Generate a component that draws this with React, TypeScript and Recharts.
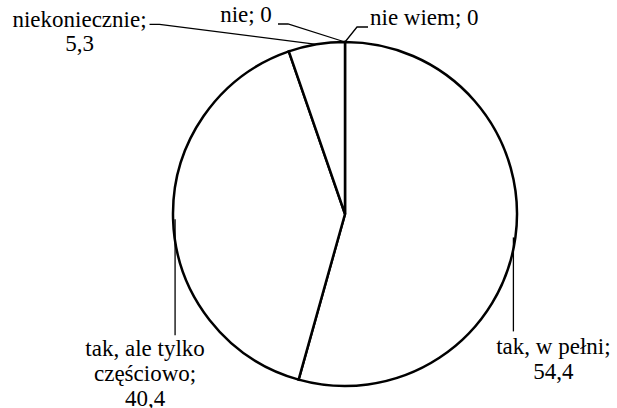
import React from 'react';
import { PieChart, Pie, Cell } from 'recharts';

const categories = ['tak, w pełni', 'tak, ale tylko częściowo', 'niekoniecznie', 'nie', 'nie wiem'];
const values = [54.4, 40.4, 5.3, 0, 0];
const labelTexts = [
  ['tak, w pełni;', '54,4'],
  ['tak, ale tylko', 'częściowo;', '40,4'],
  ['niekoniecznie;', '5,3'],
  ['nie; 0'],
  ['nie wiem; 0'],
];

const data = categories.map((name, i) => ({ name, value: values[i], idx: i }));

const FONT = "'Liberation Serif', 'Times New Roman', serif";
const FS = 23;
const LH = 25;

const RAD = Math.PI / 180;

const renderLabel = (props: any) => {
  const { cx, cy, midAngle, outerRadius, index } = props;
  const ax = cx + outerRadius * Math.cos(-midAngle * RAD);
  const ay = cy + outerRadius * Math.sin(-midAngle * RAD);
  const lines = labelTexts[index];
  let path = '';
  let tx = 0;
  let ty = 0;
  let anchor: 'start' | 'middle' | 'end' = 'middle';
  let lh = LH;
  if (index === 0) {
    path = `M${ax - 2},${ay} L${ax - 2},${ay + 94}`;
    tx = ax + 38;
    ty = ay + 117;
  } else if (index === 1) {
    path = `M${ax + 2},${ay} L${ax + 2},${ay + 116}`;
    tx = ax - 28;
    ty = ay + 137;
  } else if (index === 2) {
    path = `M${ax},${ay} L${ax - 157},${ay - 20} L${ax - 167},${ay - 20}`;
    tx = ax - 237;
    ty = ay - 17;
    lh = 24;
  } else if (index === 3) {
    path = `M${ax},${ay} L${ax - 57},${ay - 18} L${ax - 67},${ay - 18}`;
    tx = ax - 99;
    ty = ay - 20;
  } else {
    path = `M${ax},${ay} L${ax + 12},${ay - 15} L${ax + 23},${ay - 15}`;
    tx = ax + 25;
    ty = ay - 17;
    anchor = 'start';
  }
  return (
    <g key={`lbl-${index}`}>
      <path d={path} stroke="#000" strokeWidth={1.3} fill="none" />
      <text
        x={tx}
        y={ty}
        textAnchor={anchor}
        style={{ fontFamily: FONT, fontSize: FS, fill: '#000' }}
      >
        {lines.map((l, i) => (
          <tspan key={i} x={tx} dy={i === 0 ? 0 : lh}>
            {l}
          </tspan>
        ))}
      </text>
    </g>
  );
};

export default function App() {
  return (
    <div style={{ position: 'absolute', left: 0, top: 0, width: 617, height: 408, background: '#fff', fontFamily: FONT }}>
      <PieChart width={617} height={408} margin={{ top: 0, right: 0, bottom: 0, left: 0 }}>
        <Pie
          data={data}
          dataKey="value"
          nameKey="name"
          cx={345}
          cy={214}
          outerRadius={172}
          innerRadius={0}
          startAngle={90}
          endAngle={-270}
          stroke="#000"
          strokeWidth={2.5}
          fill="#fff"
          label={renderLabel}
          labelLine={false}
          isAnimationActive={false}
        >
          {data.map((d) => (
            <Cell key={d.name} fill="#fff" stroke="#000" strokeWidth={2.5} />
          ))}
        </Pie>
      </PieChart>
    </div>
  );
}
